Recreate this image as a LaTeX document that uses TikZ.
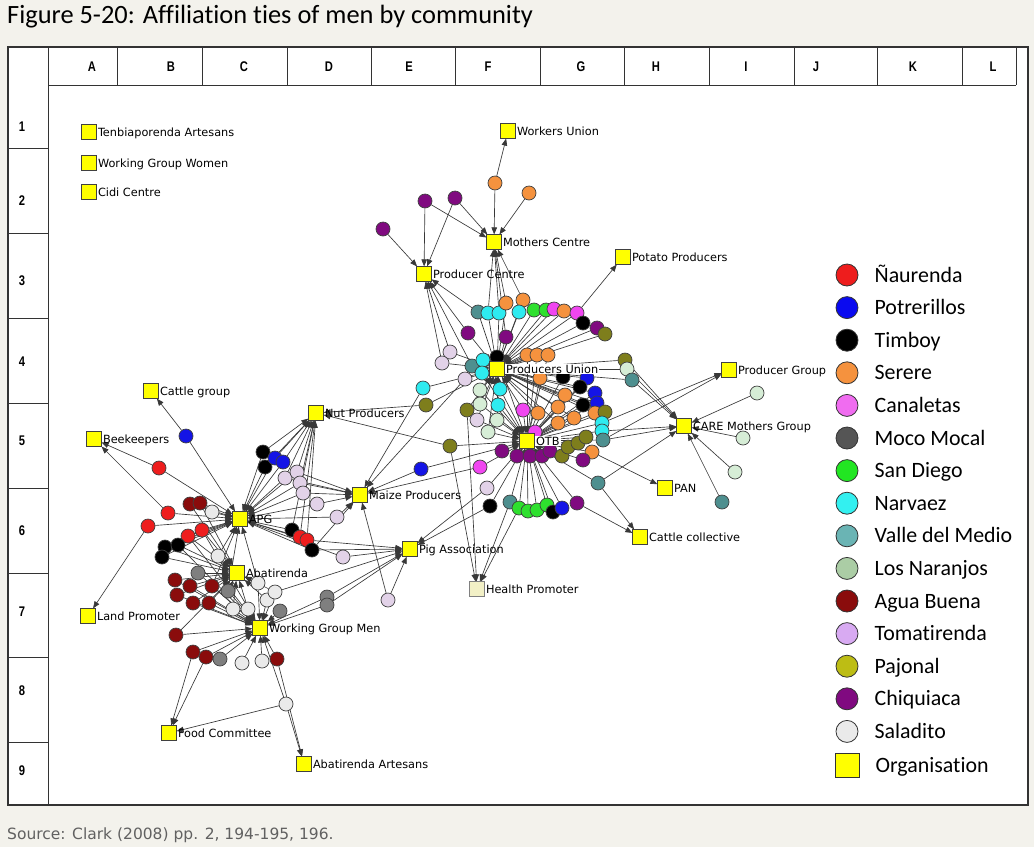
\documentclass[tikz,border=0pt]{standalone}
\usepackage{fontspec}
\setmainfont{DejaVu Sans}
\newfontfamily\calfont[Ligatures=NoCommon]{Carlito}
\newfontfamily\gridfont[FakeStretch=0.8]{Liberation Sans}
\usetikzlibrary{arrows.meta,positioning}

\definecolor{paper}{HTML}{F3F2EC}
\definecolor{orgyellow}{HTML}{FFFF00}
\definecolor{hpfill}{HTML}{F2F0C6}
% community colours in the network
\definecolor{cnau}{HTML}{EE1D1D}
\definecolor{cpot}{HTML}{1414E6}
\definecolor{ctim}{HTML}{000000}
\definecolor{cser}{HTML}{F5923E}
\definecolor{ccan}{HTML}{F046F0}
\definecolor{cmoc}{HTML}{7F7F7F}
\definecolor{csdi}{HTML}{2EE02E}
\definecolor{cnar}{HTML}{2EEBF0}
\definecolor{cval}{HTML}{4E8F8F}
\definecolor{clna}{HTML}{D6EDD6}
\definecolor{cagu}{HTML}{8A0C0C}
\definecolor{ctom}{HTML}{E2D2E8}
\definecolor{cpaj}{HTML}{7E7E1C}
\definecolor{cchi}{HTML}{800A80}
\definecolor{csal}{HTML}{EAEAEA}
% community colours in the legend
\definecolor{lnau}{HTML}{EE1D1D}
\definecolor{lpot}{HTML}{0A0AF0}
\definecolor{ltim}{HTML}{000000}
\definecolor{lser}{HTML}{F5923E}
\definecolor{lcan}{HTML}{F06CF0}
\definecolor{lmoc}{HTML}{555555}
\definecolor{lsdi}{HTML}{22E622}
\definecolor{lnar}{HTML}{33F0F0}
\definecolor{lval}{HTML}{6AB4B4}
\definecolor{llna}{HTML}{ABCDA5}
\definecolor{lagu}{HTML}{8A0C0C}
\definecolor{ltom}{HTML}{D8AAF2}
\definecolor{lpaj}{HTML}{BDBD14}
\definecolor{lchi}{HTML}{800A80}
\definecolor{lsal}{HTML}{EAEAEA}

\pgfdeclarelayer{back}
\pgfdeclarelayer{edges}
\pgfsetlayers{back,edges,main}

\begin{document}
\begin{tikzpicture}[x=1pt, y=-1pt,
  org/.style={rectangle, draw=black!75, fill=orgyellow, minimum size=14.5pt, inner sep=0pt, line width=0.7pt},
  pers/.style={circle, draw=black!75, fill=c#1, minimum size=14pt, inner sep=0pt, line width=0.7pt},
  lab/.style={font=\fontsize{11.3}{13}\selectfont, inner sep=1.2pt, text height=8.2pt, text depth=0pt},
  arr/.style={-{Triangle[length=7pt,width=5.5pt]}, black!78, line width=0.65pt},
  legdot/.style={circle, draw=black!80, fill=l#1, minimum size=22pt, inner sep=0pt, line width=0.8pt},
  legtext/.style={font=\calfont\fontsize{21.9}{24}\selectfont, inner sep=0pt, text height=14pt, text depth=0pt, anchor=west},
  head/.style={font=\gridfont\bfseries\fontsize{14}{16}\selectfont, inner sep=0pt}
]
\useasboundingbox (0,0) rectangle (1034,847);

% page, frame and grid
\begin{pgfonlayer}{back}
  \fill[paper] (0,0) rectangle (1034,847);
  \fill[white] (8,47) rectangle (1028,805);
  \draw[black!80, line width=0.9pt] (48,85) -- (1016,85);
  \foreach \gx in {117,202,287,371,455,540,624,709,794,877,962,1016}
    \draw[black!80, line width=0.9pt] (\gx,47) -- (\gx,85);
  \draw[black!80, line width=0.9pt] (48,47) -- (48,805);
  \foreach \gy in {148,233,318,403,488,573,657,742}
    \draw[black!80, line width=0.9pt] (8,\gy) -- (48,\gy);
  \draw[black!80, line width=1.4pt] (8,47) rectangle (1028,805);
\end{pgfonlayer}

\foreach \c/\cx in {A/92,B/171,C/244,D/329,E/409,F/488,G/581,H/656,I/746,J/816,K/913,L/993}
  \node[head] (col\c) at (\cx,67) {\c};
\foreach \r/\ry in {1/127,2/201,3/281,4/362,5/441,6/531,7/612,8/691,9/771}
  \node[head] (row\r) at (22,\ry) {\r};

\node[anchor=west, inner sep=0pt, text height=17pt, text depth=0pt,
  font=\calfont\fontsize{26.4}{30}\selectfont] (title) at (7,15) {Figure 5-20: Affiliation ties of men by community};
\node[anchor=west, inner sep=0pt, text height=11pt, text depth=0pt, text=black!62,
  font=\fontsize{15.5}{18}\selectfont] (source) at (7,834) {Source: Clark (2008) pp. 2, 194-195, 196.};

% people: name/x/y/community/organisations
\def\people{%
t1/495/183/ser/{wu,mc},
t2/529/193/ser/{mc},
t3/425/201/chi/{pc,mc},
t4/455/198/chi/{pc,mc},
t5/383/229/chi/{pc},
a1/478/312/val/{pu,pc},
a2/488/313/nar/{pu,mc},
a3/499/313/nar/{pu,mc},
a4/506/303/ser/{pu,mc},
a5/523/300/ser/{pu,mc},
a6/519/312/nar/{pu},
a7/534/310/sdi/{pu},
a8/546/310/sdi/{pu},
a9/554/309/can/{pu},
a10/564/311/ser/{pu},
a11/577/313/can/{pu,potato},
a12/583/323/tim/{pu},
a13/597/328/chi/{pu},
a14/605/334/paj/{pu},
a15/468/333/chi/{pu,pc},
a16/506/337/chi/{pu,mc},
u1/450/352/tom/{pc,pu},
u2/442/363/tom/{pc,pu},
u3/472/366/val/{pu,pc},
u4/483/360/nar/{pu},
u5/482/373/nar/{pu,otb},
u6/497/357/tim/{pu,otb},
u7/527/355/ser/{pu,otb},
u8/537/355/ser/{pu,otb},
u9/548/355/ser/{pu,otb},
u10/465/379/tom/{pu,maize},
u11/480/390/lna/{pu,otb},
u12/500/389/nar/{pu,otb},
u13/540/378/ser/{pu,otb},
u14/563/377/tim/{pu,otb},
u15/587/378/pot/{pu,otb},
u16/595/393/pot/{pu,otb},
u17/580/387/tim/{pu,otb},
u18/565/395/ser/{pu,otb},
u19/625/360/paj/{pu,care},
u20/627/369/lna/{pu,care},
u21/632/380/val/{pu,care},
u22/423/388/nar/{pu,maize},
u23/426/405/paj/{pu,nut},
u24/467/410/paj/{pu,hp},
u25/480/404/lna/{pu,otb},
u26/498/405/nar/{pu,otb},
u27/523/410/can/{pu,otb},
u28/538/413/ser/{pu,otb},
u29/558/407/ser/{pu,otb},
u30/583/405/tim/{pu,otb},
u31/597/403/pot/{pu,otb},
u32/574/418/ser/{pu,otb},
u33/558/423/ser/{pu,otb},
u34/595/413/ser/{pu,otb},
u35/605/412/paj/{pu,otb},
u36/477/420/tom/{pu,otb},
u37/497/420/lna/{pu,otb},
u38/488/432/lna/{pu,otb},
u39/535/432/can/{otb},
u40/602/423/nar/{otb,pg},
u41/602/431/nar/{otb,care},
u42/603/440/val/{otb,pg,care},
o1/450/446/paj/{otb,nut,hp},
o2/502/451/chi/{otb},
o3/517/456/chi/{otb},
o4/530/456/chi/{otb},
o5/542/456/chi/{otb},
o6/550/451/chi/{otb},
o7/562/456/paj/{otb},
o8/568/447/paj/{otb},
o9/578/443/paj/{otb},
o10/586/437/paj/{otb},
o11/592/452/ser/{otb,pan},
o12/583/460/chi/{otb},
o13/421/469/pot/{otb,maize},
o14/480/467/can/{otb,maize},
o15/487/488/tom/{otb,pig},
o16/490/506/tim/{otb,pig},
o17/510/502/val/{otb,hp},
o18/519/508/sdi/{otb,hp},
o19/528/511/sdi/{otb},
o20/537/510/sdi/{otb},
o21/547/505/sdi/{otb},
o22/553/512/tim/{otb},
o23/562/508/pot/{otb},
o24/577/503/chi/{otb,cc},
o25/598/483/val/{otb,care,cc},
c1/757/393/lna/{care},
c2/743/438/lna/{care},
c3/735/472/lna/{care},
c4/722/502/val/{care},
g1/186/436/pot/{cattle,apg},
g2/159/468/nau/{bee,apg},
g3/168/513/nau/{bee,apg},
g4/148/526/nau/{land,apg},
g5/190/504/agu/{apg,abat},
g6/200/503/agu/{apg,abat},
g7/212/512/sal/{apg},
g8/188/536/nau/{apg,abat,wgm},
g9/202/530/nau/{apg,abat,wgm},
g10/165/547/tim/{apg,abat},
g11/178/545/tim/{apg,abat,wgm},
g12/162/557/tim/{apg,abat},
g13/218/556/sal/{apg,abat},
g14/198/573/moc/{abat,wgm},
g15/263/452/tim/{apg,nut},
g16/265/467/tim/{apg,nut},
g17/275/458/pot/{apg,nut},
g18/283/462/pot/{apg,nut},
g19/285/478/tom/{apg,nut,maize},
g20/297/472/tom/{apg,nut,maize},
g21/300/483/tom/{apg,nut,maize},
g22/303/493/tom/{apg,maize},
g23/317/504/tom/{apg,maize},
g24/337/517/tom/{apg,maize},
g25/343/557/tom/{apg,pig},
g26/292/530/tim/{apg,nut},
g27/300/537/nau/{apg,nut},
g28/307/540/nau/{apg,nut,pig},
g29/312/550/tim/{apg,maize,pig},
w1/175/580/agu/{abat,wgm},
w2/190/586/agu/{abat,wgm},
w3/177/595/agu/{abat,wgm},
w4/212/586/agu/{abat,wgm,apg},
w5/193/603/agu/{abat,wgm},
w6/209/603/agu/{abat,wgm},
w7/228/591/moc/{abat,wgm,apg},
w8/233/609/sal/{abat,wgm},
w9/248/609/sal/{abat,wgm},
w10/258/583/sal/{abat,wgm,apg},
w11/267/600/sal/{abat,wgm},
w12/275/592/sal/{abat,wgm,pig},
w13/280/611/moc/{wgm},
w14/327/597/moc/{wgm,pig},
w15/327/605/moc/{wgm,pig},
w16/176/635/agu/{wgm,abat},
w17/193/652/agu/{wgm,food},
w18/206/657/agu/{wgm,food},
w19/220/659/moc/{wgm},
w20/242/663/sal/{wgm},
w21/262/661/sal/{wgm},
w22/277/659/agu/{wgm,abart},
w23/286/704/sal/{wgm,abart,food},
w24/388/600/tom/{maize,pig}%
}

\foreach \n/\x/\y/\c/\ts in \people
  \node[pers=\c] (\n) at (\x,\y) {};

% organisations
\foreach \n/\x/\y/\t in {tenb/89/132/Tenbiaporenda Artesans, wgw/89/163/Working Group Women,
    cidi/89/192/Cidi Centre, wu/508/131/Workers Union, mc/494/242/Mothers Centre,
    pc/424/274/Producer Centre, potato/623/257/Potato Producers, pg/729/370/Producer Group,
    cattle/151/391/Cattle group, nut/316/413/Nut Producers, bee/94/439/Beekeepers,
    care/684/426/CARE Mothers Group, maize/360/495/Maize Producers, pan/665/488/PAN,
    apg/240/519/APG, cc/640/537/Cattle collective, pig/410/549/Pig Association,
    abat/237/573/Abatirenda, land/88/616/Land Promoter, wgm/260/628/Working Group Men,
    food/169/733/Food Committee, abart/304/764/Abatirenda Artesans}
  \node[org, label={[lab]right:\t}] (\n) at (\x,\y) {};
\node[org, label={[lab, fill=white]right:Producers Union}] (pu) at (497,369) {};
\node[org, label={[lab, fill=white]right:OTB}] (otb) at (527,441) {};
\node[org, fill=hpfill, draw=black!50, label={[lab]right:Health Promoter}] (hp) at (477,589) {};

% ties
\begin{pgfonlayer}{edges}
  \foreach \n/\x/\y/\c/\ts in \people
    \foreach \t in \ts
      \draw[arr] (\n) -- (\t);
\end{pgfonlayer}

% legend
\foreach \c/\t [count=\i] in {nau/Ñaurenda, pot/Potrerillos, tim/Timboy, ser/Serere,
    can/Canaletas, moc/Moco Mocal, sdi/San Diego, nar/Narvaez, val/Valle del Medio,
    lna/Los Naranjos, agu/Agua Buena, tom/Tomatirenda, paj/Pajonal, chi/Chiquiaca, sal/Saladito}
{
  \node[legdot=\c] (leg\i) at (847,{275+32.6*(\i-1)}) {};
  \node[legtext, right=16pt of leg\i] (legt\i) {\t};
}
\node[rectangle, draw=black!80, fill=orgyellow, minimum size=24pt, inner sep=0pt, line width=0.8pt] (legorg) at (847,765) {};
\node[legtext, right=16pt of legorg] (legtorg) {Organisation};
\end{tikzpicture}
\end{document}
